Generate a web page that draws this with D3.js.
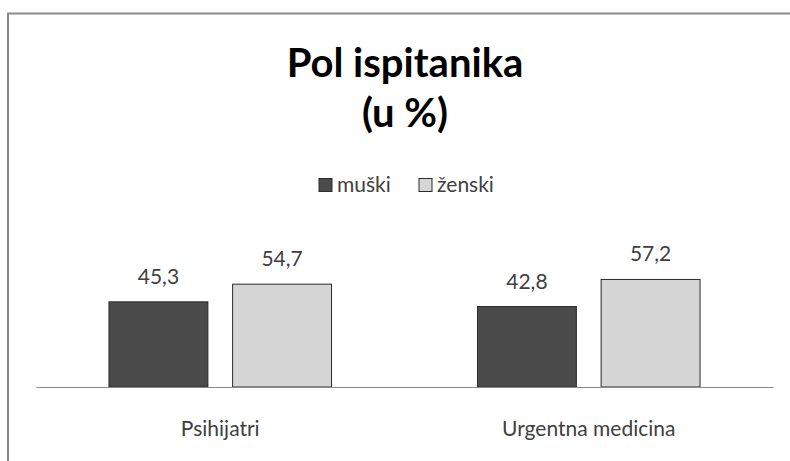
<!DOCTYPE html>
<html>
<head>
<meta charset="utf-8">
<script src="https://cdn.jsdelivr.net/npm/d3@7"></script>
<style>
  body { margin: 0; background: #fff; }
  svg { display: block; font-family: Lato, "Open Sans", sans-serif; }
</style>
</head>
<body>
<div id="chart"></div>
<script>
// data
var categories = ["Psihijatri", "Urgentna medicina"];
var seriesNames = ["muški", "ženski"];
var muski = [45.3, 42.8];
var zenski = [54.7, 57.2];
var seriesColors = ["#4b4b4b", "#d6d6d6"];

var width = 790, height = 461;

var svg = d3.select("#chart").append("svg")
    .attr("width", width)
    .attr("height", height);

// outer frame (runs off the right and bottom edge)
svg.append("rect")
    .attr("x", 8)
    .attr("y", 13.5)
    .attr("width", 900)
    .attr("height", 600)
    .attr("fill", "#fff")
    .attr("stroke", "#8a8a8a")
    .attr("stroke-width", 2);

// title
var title = svg.append("text")
    .attr("text-anchor", "middle")
    .style("font-weight", "bold")
    .style("font-size", "40px")
    .attr("fill", "#000");
title.append("tspan").attr("x", 405).attr("y", 77).text("Pol ispitanika");
title.append("tspan").attr("x", 405).attr("y", 127).text("(u %)");

// scales
var baseline = 387;
var x0 = d3.scaleBand()
    .domain(categories)
    .range([36, 773]);

var x1 = d3.scaleBand()
    .domain(seriesNames)
    .range([0, x0.bandwidth()])
    .paddingInner(0.2)
    .paddingOuter(0.59);

var y = d3.scaleLinear()
    .domain([0, 70])
    .range([baseline, baseline - 131.6]);

var rows = categories.map(function(c, i) {
  return { cat: c, values: [muski[i], zenski[i]] };
});

// bars
var groups = svg.selectAll(".group")
    .data(rows)
    .enter()
    .append("g")
    .attr("class", "group")
    .attr("transform", function(d) { return "translate(" + x0(d.cat) + ",0)"; });

groups.selectAll("rect")
    .data(function(d) { return d.values.map(function(v, j) { return { s: seriesNames[j], v: v, j: j }; }); })
    .enter()
    .append("rect")
    .attr("x", function(d) { return x1(d.s); })
    .attr("y", function(d) { return y(d.v); })
    .attr("width", x1.bandwidth())
    .attr("height", function(d) { return baseline - y(d.v); })
    .attr("fill", function(d) { return seriesColors[d.j]; })
    .attr("stroke", "#2b2b2b")
    .attr("stroke-width", 1);

// value labels
groups.selectAll(".val")
    .data(function(d) { return d.values.map(function(v, j) { return { s: seriesNames[j], v: v }; }); })
    .enter()
    .append("text")
    .attr("class", "val")
    .attr("x", function(d) { return x1(d.s) + x1.bandwidth() / 2; })
    .attr("y", function(d) { return y(d.v) - 18; })
    .attr("text-anchor", "middle")
    .style("font-size", "21px")
    .attr("fill", "#404040")
    .text(function(d) { return String(d.v).replace(".", ","); });

// x axis
var xAxis = svg.append("g")
    .attr("transform", "translate(0," + baseline + ")")
    .call(d3.axisBottom(x0).tickSize(0).tickPadding(34));
xAxis.select(".domain").attr("stroke", "#8c8c8c");
xAxis.selectAll("text")
    .style("font-size", "21px")
    .style("font-family", "Lato, 'Open Sans', sans-serif")
    .attr("fill", "#404040");

// legend
var legendX = [319, 419];
var legend = svg.selectAll(".legend")
    .data(seriesNames)
    .enter()
    .append("g")
    .attr("class", "legend")
    .attr("transform", function(d, i) { return "translate(" + legendX[i] + ",178.5)"; });

legend.append("rect")
    .attr("width", 13)
    .attr("height", 13)
    .attr("fill", function(d, i) { return seriesColors[i]; })
    .attr("stroke", "#2b2b2b");

legend.append("text")
    .attr("x", 18)
    .attr("y", 13.5)
    .style("font-size", "21px")
    .attr("fill", "#404040")
    .text(function(d) { return d; });
</script>
</body>
</html>
